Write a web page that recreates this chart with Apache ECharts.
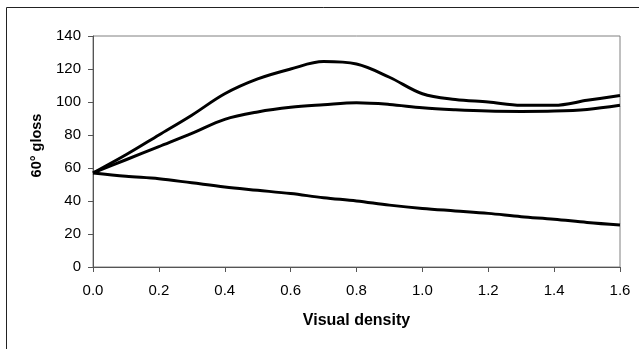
<!DOCTYPE html>
<html>
<head>
<meta charset="utf-8">
<script src="https://cdn.jsdelivr.net/npm/echarts@6/dist/echarts.min.js"></script>
<style>
  html, body { margin: 0; padding: 0; background: #fff; }
  #chart { width: 639px; height: 349px; }
</style>
</head>
<body>
<div id="chart"></div>
<script>
// Visual density samples (x axis)
const density = [0, 0.1, 0.2, 0.3, 0.4, 0.5, 0.6, 0.7, 0.8, 0.9, 1.0, 1.1, 1.2, 1.3, 1.4, 1.5, 1.6];

// 60° gloss readings for the three prints
const glossHigh = [57, 68, 80, 92, 105, 114, 120, 124.5, 123, 115, 105, 101.5, 100, 98, 98, 101, 104];
const glossMid  = [57, 65, 73, 81, 89.5, 94, 96.8, 98.3, 99.5, 98.5, 96.5, 95.3, 94.5, 94.3, 94.5, 95.5, 98];
const glossLow  = [57, 55, 53.5, 51, 48.5, 46.5, 44.5, 42, 40, 37.5, 35.5, 34, 32.5, 30.5, 29, 27, 25.5];

// Axis tick settings
const xTicks = { min: 0, max: 1.6, step: 0.2 };
const yTicks = { min: 0, max: 140, step: 20 };

const pairs = (ys) => density.map((x, i) => [x, ys[i]]);

const lineSeries = (ys) => ({
  type: 'line',
  data: pairs(ys),
  smooth: 0.35,
  showSymbol: false,
  lineStyle: { color: '#000', width: 3 },
  silent: true
});

const chart = echarts.init(document.getElementById('chart'), null, { renderer: 'canvas' });

chart.setOption({
  animation: false,
  backgroundColor: '#fff',
  textStyle: { fontFamily: 'Liberation Sans, Arial, sans-serif' },
  graphic: [{
    type: 'rect',
    shape: { x: 6.5, y: 7.5, width: 700, height: 400 },
    style: { fill: 'none', stroke: '#222', lineWidth: 1 },
    silent: true
  }],
  grid: {
    left: 93, top: 36, right: 19, bottom: 82,
    show: true, borderColor: '#808080', borderWidth: 1, backgroundColor: 'transparent'
  },
  xAxis: {
    type: 'value',
    min: xTicks.min, max: xTicks.max, interval: xTicks.step,
    name: 'Visual density',
    nameLocation: 'middle',
    nameGap: 46,
    nameTextStyle: { fontSize: 16, fontWeight: 'bold', color: '#000' },
    axisLine: { show: true, lineStyle: { color: '#555', width: 1 } },
    axisTick: { show: true, length: 5, lineStyle: { color: '#555' } },
    axisLabel: { margin: 16, fontSize: 15, color: '#000', formatter: (v) => v.toFixed(1) },
    splitLine: { show: false }
  },
  yAxis: {
    type: 'value',
    min: yTicks.min, max: yTicks.max, interval: yTicks.step,
    name: '60° gloss',
    nameLocation: 'middle',
    nameGap: 49,
    nameTextStyle: { fontSize: 14.5, fontWeight: 'bold', color: '#000', padding: [0, 0, 0, 12] },
    axisLine: { show: true, lineStyle: { color: '#555', width: 1 } },
    axisTick: { show: true, length: 5, lineStyle: { color: '#555' } },
    axisLabel: { margin: 12, fontSize: 15, color: '#000' },
    splitLine: { show: false }
  },
  series: [lineSeries(glossHigh), lineSeries(glossMid), lineSeries(glossLow)]
});
</script>
</body>
</html>
